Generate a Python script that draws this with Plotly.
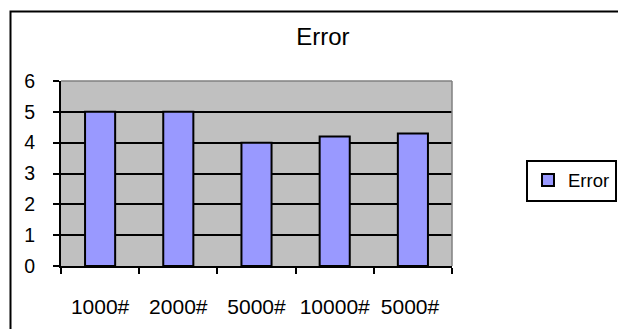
import plotly.graph_objects as go

# Chart data
categories = ["1000#", "2000#", "5000#", "10000#", "5000# "]
error_values = [5, 5, 4, 4.2, 4.3]
y_ticks = [0, 1, 2, 3, 4, 5, 6]

W, H = 618, 329
L, R, T, B = 61, 166, 81, 63
PW, PH = W - L - R, H - T - B

FONT = "Liberation Sans, Arial, sans-serif"


def px_x(px):
    return (px - L) / PW


def px_y(py):
    return (H - B - py) / PH


fig = go.Figure(
    go.Bar(
        x=categories,
        y=error_values,
        name="Error",
        marker=dict(color="#9999FF", line=dict(color="black", width=2)),
        showlegend=True,
    )
)

fig.update_layout(
    width=W,
    height=H,
    margin=dict(l=L, r=R, t=T, b=B, pad=0, autoexpand=False),
    paper_bgcolor="white",
    plot_bgcolor="#C0C0C0",
    bargap=0.615,
    font=dict(family=FONT, color="black"),
    title=dict(
        text="Error",
        font=dict(family=FONT, size=24, color="black"),
        x=0.5225,
        xref="container",
        xanchor="center",
        y=1 - 37 / H,
        yref="container",
        yanchor="middle",
    ),
    legend=dict(
        x=px_x(526),
        xanchor="left",
        y=px_y(180.5),
        yanchor="middle",
        bgcolor="white",
        bordercolor="black",
        borderwidth=2,
        font=dict(family=FONT, size=18.5, color="black"),
        itemwidth=30,
    ),
    showlegend=True,
)

fig.update_xaxes(
    type="category",
    showline=True,
    linecolor="black",
    linewidth=2,
    ticks="outside",
    tickson="boundaries",
    ticklen=6,
    tickwidth=2,
    tickcolor="black",
    showgrid=False,
    tickangle=0,
    tickfont=dict(family=FONT, size=21, color="black"),
    ticklabelstandoff=21,
)

fig.update_yaxes(
    range=[0, 6],
    tickvals=y_ticks,
    showline=True,
    linecolor="black",
    linewidth=2,
    ticks="outside",
    ticklen=6,
    tickwidth=2,
    tickcolor="black",
    showgrid=True,
    gridcolor="black",
    gridwidth=2,
    zeroline=False,
    tickfont=dict(family=FONT, size=19.5, color="black"),
    ticklabelstandoff=14,
)

# Plot-area frame on the top and right, outer chart border on the left and top
fig.add_shape(type="line", xref="paper", yref="paper", x0=0, x1=1, y0=1, y1=1,
              line=dict(color="#808080", width=1.5))
fig.add_shape(type="line", xref="paper", yref="paper", x0=1, x1=1, y0=0, y1=1,
              line=dict(color="#808080", width=1.5))
fig.add_shape(type="rect", xref="paper", yref="paper",
              x0=px_x(10.5), x1=px_x(640), y0=px_y(350), y1=px_y(11.5),
              line=dict(color="black", width=2), fillcolor="rgba(0,0,0,0)")

fig.write_html("out.html")
